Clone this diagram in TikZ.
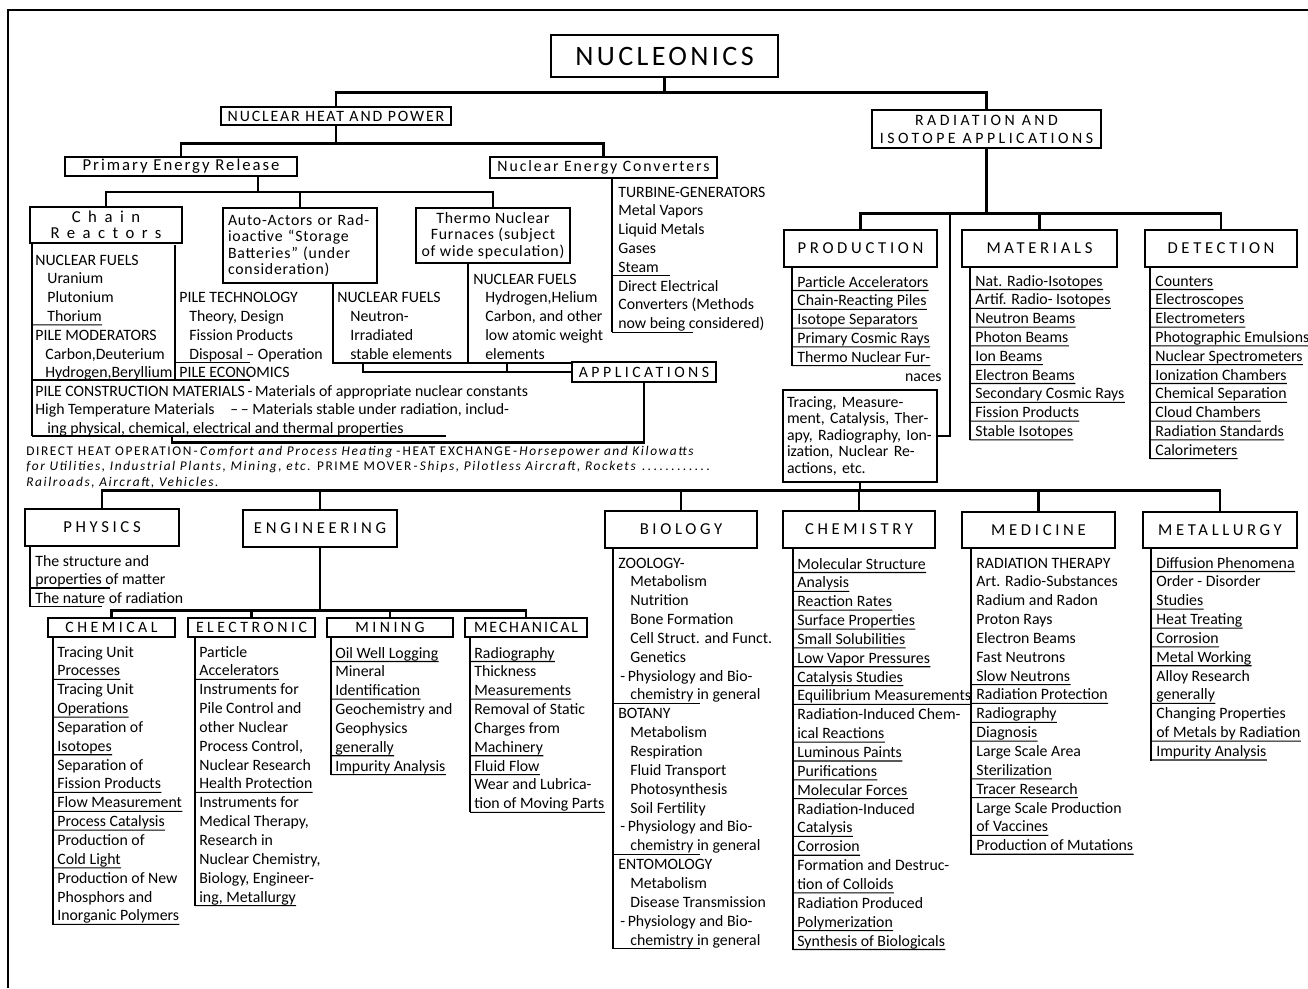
\documentclass[tikz,border=0pt]{standalone}
\usepackage{fontspec}
\setmainfont{Carlito}
\newfontfamily\spacedA[LetterSpace=5]{Carlito}
\newfontfamily\spacedB[LetterSpace=12]{Carlito}
\newfontfamily\spacedC[LetterSpace=22]{Carlito}
\newfontfamily\spacedD[LetterSpace=45]{Carlito}
\newcommand{\indt}{\hspace*{0.24cm}}
\newcommand{\pitch}{18.85}
% list column: name, bar x, text x, first baseline, items (text/underline: 0 none, 1 full, else end x)
\newcommand{\drawlist}[5]{%
  \foreach \txt/\uflag [count=\k] in {#5} {
    \pgfmathsetmacro{\yb}{#4+(\k-1)*\pitch}
    \node[item] (#1-\k) at (#3,\yb) {\txt};
    \ifnum\uflag=0\relax\else
      \pgfmathsetmacro{\yu}{\yb+3.5}
      \ifnum\uflag=1\relax
        \draw[uline] (#2,\yu) -- ([yshift=-0.07cm]#1-\k.base east);
      \else
        \draw[uline] (#2,\yu) -- (\uflag,\yu);
      \fi
    \fi
  }%
}
\begin{document}
\begin{tikzpicture}[x=0.02cm,y=-0.02cm,
  box/.style={draw,line width=0.9pt,inner sep=0pt,align=center},
  boxsize/.style 2 args={minimum width=#1*0.02cm,minimum height=#2*0.02cm},
  hdr/.style={box,boxsize={153}{37},font=\spacedC\fontsize{9.5}{11}\selectfont},
  subhdr/.style={box,boxsize={127}{19},font=\spacedC\fontsize{9}{11}\selectfont},
  conn/.style={line width=1.6pt,line cap=rect},
  uline/.style={line width=0.6pt},
  item/.style={anchor=base west,inner sep=0pt,font=\fontsize{9}{11}\selectfont},
  heat/.style={anchor=base west,inner sep=0pt,font=\spacedB\fontsize{7.6}{9}\selectfont}]
\useasboundingbox (0,0) rectangle (1308,988);
\draw[line width=1pt] (8,988) -- (8,10) -- (1308,10);

% top of the tree
\node[box,boxsize={227}{42},font=\spacedB\fontsize{16}{18}\selectfont] (nuc) at (664.5,56) {NUCLEONICS};
\node[box,boxsize={230}{18},font=\spacedB\fontsize{9}{11}\selectfont] (nhp) at (336,116) {NUCLEAR HEAT AND POWER};
\node[box,boxsize={229}{38},font=\spacedC\fontsize{9}{10.2}\selectfont] (rad) at (986.5,129) {RADIATION AND\\ISOTOPE APPLICATIONS};
\draw[conn] (nuc.south) -- ++(0,15) coordinate (b1);
\draw[conn] (b1) -| (nhp.north);
\draw[conn] (b1) -| (rad.north);

% nuclear heat and power
\node[box,boxsize={232}{19},font=\spacedB\fontsize{9.5}{11}\selectfont] (per) at (181,166.5) {Primary Energy Release};
\node[box,boxsize={227}{21},font=\spacedB\fontsize{9}{11}\selectfont] (nec) at (603.5,167.5) {Nuclear Energy Converters};
\draw[conn] (nhp.south) -- ++(0,18) coordinate (b2);
\draw[conn] (b2) -| (per.north);
\draw[conn] (b2) -| (nec.north);

\node[box,boxsize={152}{36},font=\spacedD\fontsize{9.5}{9.1}\selectfont] (chain) at (106,225) {Chain\\Reactors};
\node[box,boxsize={154}{75},align=left,text width=144*0.02cm,font=\spacedA\fontsize{9}{9.4}\selectfont] (auto) at (300,245.5) {Auto-Actors or Rad-\\ioactive “Storage\\Batteries” (under\\consideration)};
\node[box,boxsize={154}{55},font=\spacedA\fontsize{9}{9.4}\selectfont] (thermo) at (493,235.5) {Thermo Nuclear\\Furnaces (subject\\of wide speculation)};
\coordinate (b3) at (258,192);
\draw[conn] (per.south -| b3) -- (b3);
\draw[conn] (b3) -| (chain.north);
\draw[conn] (b3) -| (auto.north);
\draw[conn] (b3) -| (thermo.north);

% columns under the reactors
\renewcommand{\pitch}{18.8}
\draw[uline] (32,243) -- (32,436);
\draw[uline] (175,245) -- (175,380);
\draw[uline] (333,283) -- (333,363) -- (573,363);
\draw[uline] (468,263) -- (468,363);
\draw[uline] (32,380) -- (250,380);
\draw[uline] (32,436) -- (446,436);
\drawlist{fuel}{32}{35}{265}{NUCLEAR FUELS/0,%
  {\indt Uranium}/0,%
  {\indt Plutonium}/0,%
  {\indt Thorium}/1,%
  PILE MODERATORS/0,%
  {\hspace*{0.2cm}Carbon,Deuterium}/0,%
  {\hspace*{0.2cm}Hydrogen,Beryllium}/0}
\drawlist{tech}{175}{179}{302.6}{PILE TECHNOLOGY/0,%
  {\hspace*{0.2cm}Theory, Design}/0,%
  {\hspace*{0.2cm}Fission Products}/0,%
  {\hspace*{0.2cm}Disposal -- Operation}/250,%
  PILE ECONOMICS/0}
\drawlist{nfuel}{333}{337}{302.6}{NUCLEAR FUELS/0,%
  {\hspace*{0.26cm}Neutron-}/0,%
  {\hspace*{0.26cm}Irradiated}/0,%
  {\hspace*{0.26cm}stable elements}/0}
\drawlist{tfuel}{468}{473}{284}{NUCLEAR FUELS/0,%
  {\indt Hydrogen,Helium}/0,%
  {\indt Carbon, and other}/0,%
  {\indt low atomic weight}/0,%
  {\indt elements}/0}
\drawlist{conv}{612}{618}{197}{TURBINE-GENERATORS/0,%
  Metal Vapors/0,%
  Liquid Metals/0,%
  Gases/0,%
  Steam/670,%
  Direct Electrical/0,%
  Converters (Methods/0,%
  now being considered)/693}
\draw[uline] (612,178) -- (612,332);
\renewcommand{\pitch}{18.5}
\drawlist{pcm}{32}{35}{396}{PILE CONSTRUCTION MATERIALS\,-\,Materials of appropriate nuclear constants/0,%
  {High Temperature Materials\quad --\,-- Materials stable under radiation, includ-}/0,%
  {\indt ing physical, chemical, electrical and thermal properties}/0}

% applications
\node[box,boxsize={144}{20},font=\spacedC\fontsize{9}{11}\selectfont] (apps) at (644,372) {APPLICATIONS};
\coordinate (neutronfoot) at (363,363);
\coordinate (thermofoot) at (507,363);
\coordinate (pilefoot) at (172,436);
\draw[conn] (neutronfoot) |- (apps.west);
\draw[conn] (thermofoot) -- (thermofoot |- apps.west);
\draw[conn] (apps.south) -- ++(0,60) -| (pilefoot);

\node[heat] (heat1) at (26,455) {DIRECT HEAT OPERATION\,-\,\textit{Comfort and Process Heating}\,-\,HEAT EXCHANGE\,-\,\textit{Horsepower and Kilowatts}};
\node[heat] (heat2) at (26,470) {\textit{for Utilities, Industrial Plants, Mining, etc.}\ PRIME MOVER\,-\,\textit{Ships, Pilotless Aircraft, Rockets}\,\makebox[1.45cm]{\dotfill}};
\node[heat] (heat3) at (26,486) {\textit{Railroads, Aircraft, Vehicles.}};

% radiation and isotope applications
\node[hdr] (prod) at (860.5,248.5) {PRODUCTION};
\node[hdr,boxsize={155}{37}] (mat) at (1039.5,248.5) {MATERIALS};
\node[hdr,boxsize={152}{37}] (det) at (1221,248.5) {DETECTION};
\node[box,boxsize={154}{92},align=left,text width=146*0.02cm,font=\fontsize{9}{9.4}\selectfont] (trace) at (860,436) {Tracing, Measure-\\ment, Catalysis, Ther-\\apy, Radiography, Ion-\\ization, Nuclear Re-\\actions, etc.};
\draw[conn] (rad.south) -- ++(0,65) coordinate (b4);
\draw[conn] (b4) -| (prod.north);
\draw[conn] (b4) -| (mat.north);
\draw[conn] (b4) -| (det.north);
\coordinate (b4b) at (950,213);
\draw[conn] (b4b) |- (trace.east);

\renewcommand{\pitch}{18.8}
\draw[uline] (792,267) -- (792,366);
\draw[uline] (970,267) -- (970,440);
\draw[uline] (1150,267) -- (1150,459);
\drawlist{prd}{792}{797}{287}{Particle Accelerators/1,%
  Chain-Reacting Piles/1,%
  Isotope Separators/1,%
  Primary Cosmic Rays/1,%
  Thermo Nuclear Fur-/1}
\node[item,anchor=base east] (prd-6) at (942,381) {naces};
\drawlist{mtl}{970}{975}{286}{Nat. Radio-Isotopes/1,%
  Artif. Radio- Isotopes/1,%
  Neutron Beams/1,%
  Photon Beams/1,%
  Ion Beams/1,%
  Electron Beams/1,%
  Secondary Cosmic Rays/1,%
  Fission Products/1,%
  Stable Isotopes/1}
\drawlist{dtc}{1150}{1155}{286}{Counters/1,%
  Electroscopes/1,%
  Electrometers/1,%
  Photographic Emulsions/1,%
  Nuclear Spectrometers/1,%
  Ionization Chambers/1,%
  Chemical Separation/1,%
  Cloud Chambers/1,%
  Radiation Standards/1,%
  Calorimeters/1}

% fields of application
\draw[conn] (trace.south) -- ++(0,8) coordinate (b5);
\node[hdr,boxsize={154}{37}] (phys) at (102,527.5) {PHYSICS};
\node[hdr,boxsize={154}{37}] (eng) at (320,528.5) {ENGINEERING};
\node[hdr,boxsize={152}{37}] (bio) at (681,529.5) {BIOLOGY};
\node[hdr,boxsize={152}{37}] (chem) at (859,529.5) {CHEMISTRY};
\node[hdr,boxsize={153}{36}] (med) at (1038.5,530) {MEDICINE};
\node[hdr,boxsize={154}{36}] (met) at (1220,530) {METALLURGY};
\foreach \n in {phys,eng,bio,chem,med,met}
  \draw[conn] (b5) -| (\n.north);

\renewcommand{\pitch}{18.5}
\draw[uline] (30,546) -- (30,606.5);
\drawlist{phy}{30}{35}{566}{The structure and/0,%
  properties of matter/110,%
  The nature of radiation/102}

% engineering branches
\node[subhdr] (chm) at (111.5,627.5) {CHEMICAL};
\node[subhdr] (elc) at (251.5,627.5) {ELECTRONIC};
\node[subhdr,boxsize={126}{19}] (mng) at (390,627.5) {MINING};
\node[subhdr,boxsize={122}{19},font=\spacedB\fontsize{9}{11}\selectfont] (mec) at (526,627.5) {MECHANICAL};
\draw[conn] (eng.south) -- ++(0,63) coordinate (b6);
\foreach \n in {chm,elc,mng,mec}
  \draw[conn] (b6) -| (\n.north);

\renewcommand{\pitch}{18.85}
\draw[uline] (53,637) -- (53,925);
\draw[uline] (195,637) -- (195,906);
\draw[uline] (331,637) -- (331,775);
\draw[uline] (470,637) -- (470,812);
\drawlist{chl}{53}{57}{657}{Tracing Unit/0,%
  Processes/1,%
  Tracing Unit/0,%
  Operations/1,%
  Separation of/0,%
  Isotopes/1,%
  Separation of/0,%
  Fission Products/1,%
  Flow Measurement/1,%
  Process Catalysis/1,%
  Production of/0,%
  Cold Light/1,%
  Production of New/0,%
  Phosphors and/0,%
  Inorganic Polymers/1}
\drawlist{ell}{195}{199}{657}{Particle/0,%
  Accelerators/1,%
  Instruments for/0,%
  Pile Control and/0,%
  other Nuclear/0,%
  {Process Control,}/0,%
  Nuclear Research/0,%
  Health Protection/1,%
  Instruments for/0,%
  {Medical Therapy,}/0,%
  Research in/0,%
  {Nuclear Chemistry,}/0,%
  {Biology, Engineer-}/0,%
  {ing, Metallurgy}/1}
\drawlist{mnl}{331}{335}{658}{Oil Well Logging/1,%
  Mineral/0,%
  Identification/1,%
  Geochemistry and/0,%
  Geophysics/0,%
  generally/1,%
  Impurity Analysis/1}
\drawlist{mcl}{470}{474}{658}{Radiography/1,%
  Thickness/0,%
  Measurements/1,%
  Removal of Static/0,%
  Charges from/0,%
  Machinery/1,%
  Fluid Flow/1,%
  Wear and Lubrica-/0,%
  tion of Moving Parts/1}

% biology, chemistry, medicine, metallurgy
\draw[uline] (613,548) -- (613,949);
\draw[uline] (793,548) -- (793,950);
\draw[uline] (971,548) -- (971,855);
\draw[uline] (1151,548) -- (1151,761);
\drawlist{bil}{613}{618}{568}{ZOOLOGY-/0,%
  {\indt Metabolism}/0,%
  {\indt Nutrition}/0,%
  {\indt Bone Formation}/0,%
  {\indt Cell Struct. and Funct.}/0,%
  {\indt Genetics}/0,%
  {\hspace*{0.04cm}-\,Physiology and Bio-}/0,%
  {\indt chemistry in general}/700,%
  BOTANY/0,%
  {\indt Metabolism}/0,%
  {\indt Respiration}/0,%
  {\indt Fluid Transport}/0,%
  {\indt Photosynthesis}/0,%
  {\indt Soil Fertility}/0,%
  {\hspace*{0.04cm}-\,Physiology and Bio-}/0,%
  {\indt chemistry in general}/700,%
  ENTOMOLOGY/0,%
  {\indt Metabolism}/0,%
  {\indt Disease Transmission}/0,%
  {\hspace*{0.04cm}-\,Physiology and Bio-}/0,%
  {\indt chemistry in general}/700}
\drawlist{cml}{793}{797}{569}{Molecular Structure/1,%
  Analysis/1,%
  Reaction Rates/1,%
  Surface Properties/1,%
  Small Solubilities/1,%
  Low Vapor Pressures/1,%
  Catalysis Studies/1,%
  Equilibrium Measurements/1,%
  Radiation-Induced Chem-/0,%
  ical Reactions/1,%
  Luminous Paints/1,%
  Purifications/1,%
  Molecular Forces/1,%
  Radiation-Induced/0,%
  Catalysis/1,%
  Corrosion/1,%
  Formation and Destruc-/0,%
  tion of Colloids/1,%
  Radiation Produced/0,%
  Polymerization/1,%
  Synthesis of Biologicals/1}
\drawlist{mdl}{971}{976}{568}{RADIATION THERAPY/0,%
  Art. Radio-Substances/0,%
  Radium and Radon/0,%
  Proton Rays/0,%
  Electron Beams/0,%
  Fast Neutrons/0,%
  Slow Neutrons/1,%
  Radiation Protection/1,%
  Radiography/1,%
  Diagnosis/1,%
  Large Scale Area/0,%
  Sterilization/1,%
  Tracer Research/1,%
  Large Scale Production/0,%
  of Vaccines/1,%
  Production of Mutations/1}
\drawlist{mtg}{1151}{1156}{568}{Diffusion Phenomena/1,%
  Order - Disorder/0,%
  Studies/1,%
  Heat Treating/1,%
  Corrosion/1,%
  Metal Working/1,%
  Alloy Research/0,%
  generally/1,%
  Changing Properties/0,%
  of Metals by Radiation/1,%
  Impurity Analysis/1}
\end{tikzpicture}
\end{document}
